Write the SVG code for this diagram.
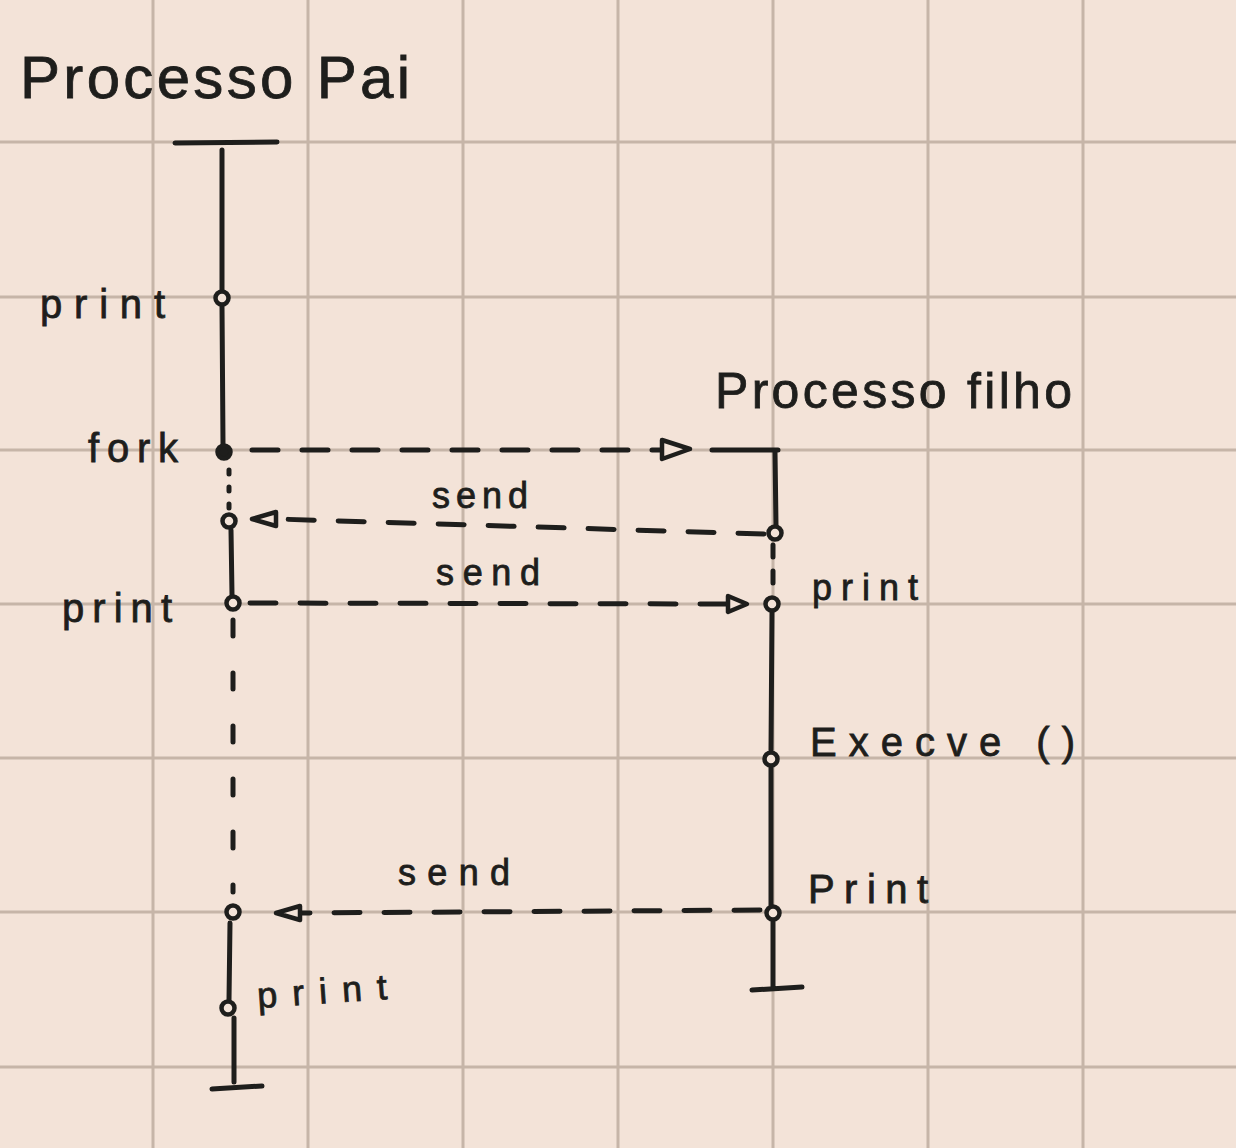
<svg xmlns="http://www.w3.org/2000/svg" width="1236" height="1148" viewBox="0 0 1236 1148">
<style>
.grid{stroke:#c6b5a8;stroke-width:3;fill:none}
.ln{stroke:#1e1e1c;stroke-width:5;stroke-linecap:round;fill:none}
.dash{stroke:#1e1e1c;stroke-width:5;stroke-linecap:round;fill:none;stroke-dasharray:26 24}
.pt{stroke:#1e1e1c;stroke-width:4.5;fill:#f3e3d8}
.ptf{stroke:#1e1e1c;stroke-width:4.5;fill:#1e1e1c}
.hd{stroke:#1e1e1c;stroke-width:4.5;stroke-linejoin:round;fill:#f3e3d8}
.t{font-family:"Liberation Sans","DejaVu Sans",sans-serif;fill:#1e1e1c;stroke:#1e1e1c;stroke-width:0.8}
.title{font-size:60px}
.lbl{font-size:40px}
.msg{font-size:36px}
</style>
<rect width="1236" height="1148" fill="#f3e3d8"/>
<g id="grid">
<path class="grid" d="M153 0V1148M308 0V1148M463 0V1148M618 0V1148M773 0V1148M928 0V1148M1083 0V1148M0 142H1236M0 297H1236M0 450H1236M0 604H1236M0 758H1236M0 912H1236M0 1067H1236"/>
</g>
<g id="processo-pai">
<text class="t title" x="20" y="98" textLength="390" lengthAdjust="spacing">Processo Pai</text>
<path class="ln" d="M175 143L277 142M222 150L222 290M222 306L223 444M231 530L232 595M230 923L229 1000M234 1018L234 1082M212 1089L262 1086"/>
<path class="ln" d="M229 470L229 512" stroke-dasharray="4 13"/>
<path class="ln" d="M233 620L233 892" stroke-dasharray="16 37"/>
</g>
<g id="pai-print1"><circle class="pt" cx="222" cy="298" r="6.5"/><text class="t lbl" x="40" y="318" textLength="125" lengthAdjust="spacing">print</text></g>
<g id="pai-fork"><circle class="ptf" cx="224" cy="452" r="6.5"/><text class="t lbl" x="88" y="462" textLength="90" lengthAdjust="spacing">fork</text></g>
<g id="pai-recv1"><circle class="pt" cx="229" cy="521" r="6.5"/></g>
<g id="pai-print2"><circle class="pt" cx="233" cy="603" r="6.5"/><text class="t lbl" x="62" y="622" textLength="110" lengthAdjust="spacing">print</text></g>
<g id="pai-recv2"><circle class="pt" cx="233" cy="912" r="6.5"/></g>
<g id="pai-print3"><circle class="pt" cx="228" cy="1008" r="6.5"/><text class="t msg" x="258" y="1008" textLength="130" lengthAdjust="spacing" transform="rotate(-4 258 1008)">print</text></g>
<g id="processo-filho">
<text class="t" style="font-size:50px" x="715" y="408" textLength="357" lengthAdjust="spacing">Processo filho</text>
<path class="ln" d="M712 450L778 450M775 452L776 525M772 612L771 750M771 768L771 905M773 922L773 988M752 990L802 987"/>
<path class="ln" d="M773 545L773 596" stroke-dasharray="12 14"/>
</g>
<g id="filho-send1"><circle class="pt" cx="775" cy="533" r="6.5"/></g>
<g id="filho-print1"><circle class="pt" cx="772" cy="604" r="6.5"/><text class="t msg" x="812" y="600" textLength="106" lengthAdjust="spacing">print</text></g>
<g id="filho-execve"><circle class="pt" cx="771" cy="759" r="6.5"/><text class="t lbl" x="810" y="756" textLength="265" lengthAdjust="spacing">Execve ()</text></g>
<g id="filho-print2"><circle class="pt" cx="773" cy="913" r="6.5"/><text class="t lbl" x="808" y="903" textLength="120" lengthAdjust="spacing">Print</text></g>
<g id="connectors">
<path class="dash" d="M252 450L660 450"/>
<path class="hd" d="M662 440L690 449L662 459Z"/>
<path class="dash" d="M764 534L276 519"/>
<path class="hd" d="M276 512L252 519L276 526Z"/>
<text class="t msg" x="432" y="508" textLength="96" lengthAdjust="spacing">send</text>
<path class="dash" d="M250 603L726 604"/>
<path class="hd" d="M728 596L747 604L728 612Z"/>
<text class="t msg" x="436" y="585" textLength="104" lengthAdjust="spacing">send</text>
<path class="dash" d="M760 910L300 913"/>
<path class="hd" d="M300 906L276 913L300 920Z"/>
<text class="t msg" x="398" y="885" textLength="112" lengthAdjust="spacing">send</text>
</g>
</svg>
